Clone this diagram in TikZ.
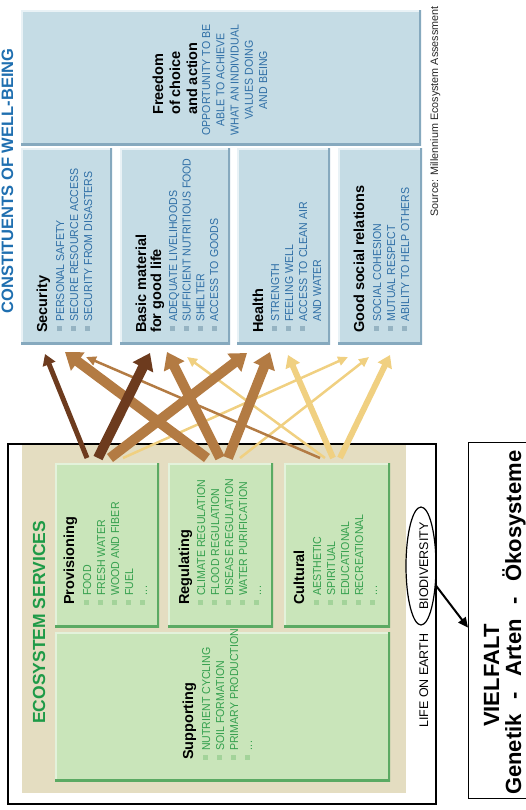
\documentclass[tikz,border=0pt]{standalone}
\usepackage{fontspec}
\setmainfont{Liberation Sans}
\newfontfamily\narrowsans[FakeStretch=0.92]{Liberation Sans}
\usetikzlibrary{arrows.meta,shapes.geometric}

\definecolor{wbfill}{HTML}{C5DCE5}
\definecolor{wbdark}{HTML}{86A9BE}
\definecolor{wblight}{HTML}{E9F2F6}
\definecolor{wbtext}{HTML}{2F6FA6}
\definecolor{wbbullet}{HTML}{95B3C2}
\definecolor{wbtitle}{HTML}{1F6FB0}
\definecolor{esfill}{HTML}{C9E5BA}
\definecolor{esdark}{HTML}{5BAA63}
\definecolor{eslight}{HTML}{E3F2DB}
\definecolor{estext}{HTML}{35A04E}
\definecolor{esbullet}{HTML}{A3D39A}
\definecolor{estitle}{HTML}{1E9A47}
\definecolor{beige}{HTML}{E4DDC1}
\definecolor{arrdark}{HTML}{6D3B1E}
\definecolor{arrmid}{HTML}{B37B43}
\definecolor{arrlight}{HTML}{F0D081}

% three dots used as an open list end
\newcommand{\moredots}{.\kern0.6pt.\kern0.6pt.}

\begin{document}
\begin{tikzpicture}[x=1pt,y=-1pt,
  bevel/.style 2 args={path picture={
    \draw[#1,line width=4pt]
      (path picture bounding box.south west) -- (path picture bounding box.north west)
      -- (path picture bounding box.north east);
    \draw[#2,line width=5pt]
      (path picture bounding box.north east) -- (path picture bounding box.south east)
      -- (path picture bounding box.south west);}},
  panel/.style={draw=none, anchor=north west, inner sep=0pt},
  wbbox/.style={panel, fill=wbfill, bevel={wblight}{wbdark}},
  esbox/.style={panel, fill=esfill, bevel={eslight}{esdark}},
  txt/.style={rotate=90, anchor=base west, inner sep=0pt},
  wbhead/.style={txt, font=\bfseries\fontsize{14.5}{17}\selectfont, text=black},
  eshead/.style={txt, font=\bfseries\fontsize{14.5}{17}\selectfont, text=black},
  wbitem/.style={txt, font=\narrowsans\fontsize{11.5}{14}\selectfont, text=wbtext},
  esitem/.style={txt, font=\narrowsans\fontsize{11.5}{14}\selectfont, text=estext},
  wbbul/.style={fill=wbbullet, inner sep=0pt, minimum size=5pt},
  esbul/.style={fill=esbullet, inner sep=0pt, minimum size=5pt},
  heavy/.style={line width=10pt, -{Triangle[length=16pt,width=22pt]}},
  medium/.style={line width=5pt, -{Triangle[length=11pt,width=13pt]}},
  mediumb/.style={line width=6pt, -{Triangle[length=12pt,width=15pt]}},
  light/.style={line width=2.5pt, -{Triangle[length=10pt,width=9pt]}}
]
\useasboundingbox (0,0) rectangle (525,810);

% ---------- constituents of well-being ----------
\node[rotate=90, anchor=base, inner sep=0pt, text=wbtitle,
      font=\bfseries\fontsize{16.5}{18}\selectfont] (wbtitle) at (13,181)
      {CONSTITUENTS OF WELL-BEING};

\node[wbbox, minimum width=400pt, minimum height=135pt] (free)   at (21,10)  {};
\node[wbbox, minimum width=91pt,  minimum height=196pt] (sec)    at (21,148) {};
\node[wbbox, minimum width=110pt, minimum height=196pt] (basic)  at (120,148) {};
\node[wbbox, minimum width=93pt,  minimum height=196pt] (health) at (237,148) {};
\node[wbbox, minimum width=84pt,  minimum height=196pt] (good)   at (338,148) {};

% freedom of choice and action
\node[wbhead] (free-h1) at (163,115) {Freedom};
\node[wbhead] (free-h2) at (180,115) {of choice};
\node[wbhead] (free-h3) at (197,115) {and action};
\foreach \t [count=\i from 0] in {OPPORTUNITY TO BE,ABLE TO ACHIEVE,WHAT AN INDIVIDUAL,VALUES DOING,AND BEING}
  \node[wbitem, anchor=base] (free-\i) at (210+14.3*\i,80) {\t};

% security
\node[wbhead] (sec-h) at (47,333) {Security};
\foreach \t [count=\i from 0] in {PERSONAL SAFETY,SECURE RESOURCE ACCESS,SECURITY FROM DISASTERS}{
  \node[wbitem] (sec-\i) at (64+14*\i,322) {\t};
  \node[wbbul] (sec-b\i) at (64+14*\i-4.1,328) {};}

% basic material for good life
\node[wbhead] (basic-h1) at (146,333) {Basic material};
\node[wbhead] (basic-h2) at (161,333) {for good life};
\foreach \t [count=\i from 0] in {ADEQUATE LIVELIHOODS,SUFFICIENT NUTRITIOUS FOOD,SHELTER,ACCESS TO GOODS}{
  \node[wbitem] (basic-\i) at (177+13.7*\i,322) {\t};
  \node[wbbul] (basic-b\i) at (177+13.7*\i-4.1,328) {};}

% health
\node[wbhead] (health-h) at (263,333) {Health};
\foreach \t [count=\i from 0] in {STRENGTH,FEELING WELL,ACCESS TO CLEAN AIR}{
  \node[wbitem] (health-\i) at (279+14*\i,322) {\t};
  \node[wbbul] (health-b\i) at (279+14*\i-4.1,328) {};}
\node[wbitem] (health-3) at (321,322) {AND WATER};

% good social relations
\node[wbhead] (good-h) at (364,333) {Good social relations};
\foreach \t [count=\i from 0] in {SOCIAL COHESION,MUTUAL RESPECT,ABILITY TO HELP OTHERS}{
  \node[wbitem] (good-\i) at (381+14*\i,322) {\t};
  \node[wbbul] (good-b\i) at (381+14*\i-4.1,328) {};}

% source line
\node[txt, font=\fontsize{10.8}{13}\selectfont, text=black!85] (source) at (438,217)
  {Source: Millennium Ecosystem Assessment};

% ---------- ecosystem services ----------
\node[panel, draw=black, line width=1.5pt, minimum width=428pt, minimum height=360pt] (es) at (7,443) {};
\node[panel, fill=beige, minimum width=384pt, minimum height=348pt] (beige) at (22,444.5) {};

\node[txt, font=\bfseries\fontsize{17.5}{20}\selectfont, text=estitle] (estitle) at (45,724)
  {ECOSYSTEM SERVICES};

\node[esbox, minimum width=104pt, minimum height=164pt] (prov) at (55,463)  {};
\node[esbox, minimum width=105pt, minimum height=164pt] (reg)  at (168,463) {};
\node[esbox, minimum width=106pt, minimum height=164pt] (cult) at (284,463) {};
\node[esbox, minimum width=335pt, minimum height=149pt] (supp) at (55,632)  {};

% provisioning
\node[eshead] (prov-h) at (74,605) {Provisioning};
\foreach \t [count=\i from 0] in {FOOD,FRESH WATER,WOOD AND FIBER,FUEL,\moredots}{
  \node[esitem] (prov-\i) at (91+14*\i,596) {\t};
  \node[esbul] (prov-b\i) at (91+14*\i-4.1,602) {};}

% regulating
\node[eshead] (reg-h) at (189,605) {Regulating};
\foreach \t [count=\i from 0] in {CLIMATE REGULATION,FLOOD REGULATION,DISEASE REGULATION,WATER PURIFICATION,\moredots}{
  \node[esitem] (reg-\i) at (205+14*\i,596) {\t};
  \node[esbul] (reg-b\i) at (205+14*\i-4.1,602) {};}

% cultural
\node[eshead] (cult-h) at (304,605) {Cultural};
\foreach \t [count=\i from 0] in {AESTHETIC,SPIRITUAL,EDUCATIONAL,RECREATIONAL,\moredots}{
  \node[esitem] (cult-\i) at (321+14*\i,596) {\t};
  \node[esbul] (cult-b\i) at (321+14*\i-4.1,602) {};}

% supporting
\node[eshead] (supp-h) at (193,760) {Supporting};
\foreach \t [count=\i from 0] in {NUTRIENT CYCLING,SOIL FORMATION,PRIMARY PRODUCTION,\moredots}{
  \node[esitem] (supp-\i) at (210+14*\i,751) {\t};
  \node[esbul] (supp-b\i) at (210+14*\i-4.1,757) {};}

% life on earth -- biodiversity
\node[txt, font=\fontsize{12.5}{15}\selectfont] (life) at (428,728) {LIFE ON EARTH};
\node[draw=black, line width=1.2pt, ellipse, rotate=90, minimum width=118pt,
      minimum height=30pt, inner sep=0pt] (bio) at (421,566) {};
\node[txt, anchor=base, font=\fontsize{12.5}{15}\selectfont] (biotext) at (428,566) {BIODIVERSITY};

% vielfalt box
\node[panel, draw=black, line width=1.2pt, minimum width=80pt, minimum height=356pt] (vbox) at (468,442) {};
\node[txt, font=\bfseries\fontsize{22}{26}\selectfont] (vtitle) at (499,727) {VIELFALT};
\node[txt, font=\bfseries\fontsize{22}{26}\selectfont] (vline) at (521,795)
  {Genetik\hspace{9pt} - \hspace{9pt}Arten\hspace{9pt} - \hspace{9pt}Ökosysteme};
\coordinate (vtip) at ([yshift=-7pt]vbox.west);
\draw[line width=2pt, -{Triangle[length=10pt,width=9pt]}] (bio) -- (vtip);

% ---------- links between services and well-being ----------
\coordinate (pS) at (87,458);  \coordinate (pB) at (98,458);
\coordinate (pH) at (110,458); \coordinate (pG) at (123,458);
\coordinate (rS) at (207,458); \coordinate (rB) at (220,458);
\coordinate (rH) at (228,458); \coordinate (rG) at (240,458);
\coordinate (cS) at (320,458); \coordinate (cB) at (325,458);
\coordinate (cH) at (333,458); \coordinate (cG) at (340,458);

\coordinate (tSp) at (45,354);  \coordinate (tSr) at (65,352);  \coordinate (tSc) at (86,357);
\coordinate (tBp) at (150,353); \coordinate (tBr) at (167,352); \coordinate (tBc) at (187,357);
\coordinate (tHp) at (247,353); \coordinate (tHr) at (270,352); \coordinate (tHc) at (288,355);
\coordinate (tGp) at (348,357); \coordinate (tGr) at (369,357); \coordinate (tGc) at (390,355);

\draw[light, arrlight] (pG) -- (tGp);
\draw[light, arrlight] (rG) -- (tGr);
\draw[light, arrlight] (cB) -- (tBc);
\draw[mediumb, arrlight] (cH) -- (tHc);
\draw[mediumb, arrlight] (cG) -- (tGc);
\draw[light, arrmid] (cS) -- (tSc);
\draw[heavy, arrmid] (rS) -- (tSr);
\draw[heavy, arrmid] (rB) -- (tBr);
\draw[heavy, arrmid] (rH) -- (tHr);
\draw[heavy, arrmid] (pH) -- (tHp);
\draw[medium, arrdark] (pS) -- (tSp);
\draw[heavy, arrdark] (pB) -- (tBp);
\end{tikzpicture}
\end{document}
